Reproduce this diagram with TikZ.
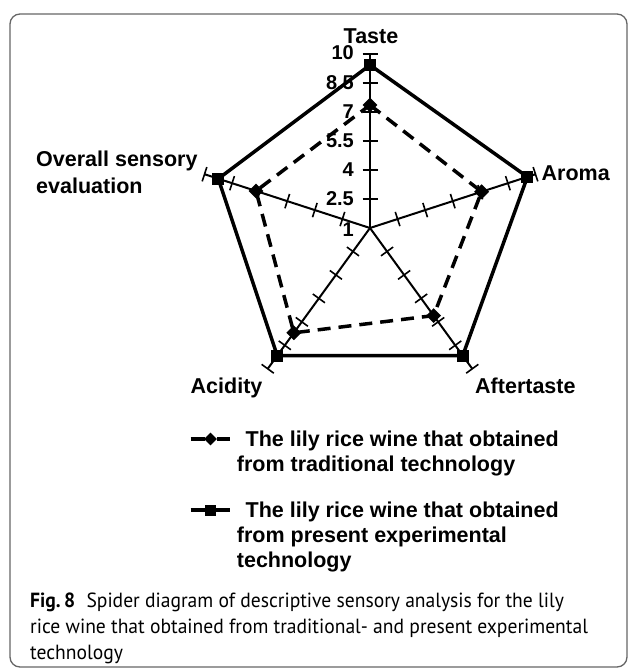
\documentclass[tikz,border=0pt]{standalone}
\usepackage{fontspec}
\setmainfont{Liberation Sans}
\newfontfamily\capfont[FakeStretch=0.955]{PT Sans}
\usetikzlibrary{shapes.geometric}
\begin{document}
\begin{tikzpicture}[x=1pt,y=1pt,
  lbl/.style={font=\fontsize{21.5}{25}\selectfont\bfseries, inner sep=0pt, anchor=base west},
  ticklbl/.style={font=\fontsize{20}{24}\selectfont\bfseries, inner sep=0pt, anchor=east},
  caplbl/.style={font=\capfont\fontsize{20.5}{25}\selectfont, inner sep=0pt, anchor=base west},
  axisline/.style={line width=2pt},
  tickline/.style={line width=1.6pt},
  expline/.style={line width=3.5pt, line join=miter},
  tradline/.style={line width=3.5pt, dash pattern=on 13pt off 8pt},
  legline/.style={line width=3.5pt},
  sqmark/.style={rectangle, fill=black, minimum size=12pt, inner sep=0pt},
  dmmark/.style={diamond, fill=black, minimum size=15pt, inner sep=0pt, aspect=1},
  frame/.style={draw=black!60, line width=1.3pt, rounded corners=10pt}
]
\useasboundingbox (0,0) rectangle (629,-670);
\draw[frame] (10,-14) rectangle (627,-667);
\coordinate (c) at (370,-228);
% axes
\foreach \a/\n in {90/ta,18/ar,-54/af,-126/ac,162/ov}{
  \draw[axisline] (c) -- ++(\a:174) coordinate (end\n);
}
% ticks
\foreach \a in {90,18,-54,-126,162}{
  \foreach \v in {2.5,4,5.5,7,8.5,10}{
    \draw[tickline, shift={(c)}, rotate=\a] ({(\v-1)*19.333},7.5) -- ({(\v-1)*19.333},-7.5);
  }
}
% tick labels
\node[ticklbl] (t10) at (354,-53) {10};
\node[ticklbl] (t85) at (354,-83) {8.5};
\node[ticklbl] (t7) at (354,-112) {7};
\node[ticklbl] (t55) at (354,-141) {5.5};
\node[ticklbl] (t4) at (354,-170) {4};
\node[ticklbl] (t25) at (354,-199) {2.5};
\node[ticklbl] (t1) at (354,-230) {1};
% data points
\path (c) ++(90:{(9.43-1)*19.333}) coordinate (eta);
\path (c) ++(18:{(9.56-1)*19.333}) coordinate (ear);
\path (c) ++(-54:{(9.16-1)*19.333}) coordinate (eaf);
\path (c) ++(-126:{(9.16-1)*19.333}) coordinate (eac);
\path (c) ++(162:{(9.25-1)*19.333}) coordinate (eov);
\path (c) ++(90:{(7.36-1)*19.333}) coordinate (tta);
\path (c) ++(18:{(7.07-1)*19.333}) coordinate (tar);
\path (c) ++(-54:{(6.6-1)*19.333}) coordinate (taf);
\path (c) ++(-126:{(7.7-1)*19.333}) coordinate (tac);
\path (c) ++(162:{(7.2-1)*19.333}) coordinate (tov);
\draw[expline] (eta) -- (ear) -- (eaf) -- (eac) -- (eov) -- cycle;
\draw[tradline] (tta) -- (tar) -- (taf) -- (tac) -- (tov) -- cycle;
\foreach \p in {eta,ear,eaf,eac,eov}{\node[sqmark] (m\p) at (\p) {};}
\foreach \p in {tta,tar,taf,tac,tov}{\node[dmmark] (m\p) at (\p) {};}
% axis labels
\node[lbl, anchor=base] (ltaste) at (371,-43) {Taste};
\node[lbl] (laroma) at (541.5,-180) {Aroma};
\node[lbl] (laft) at (475,-393) {Aftertaste};
\node[lbl] (lacid) at (190.5,-393) {Acidity};
\node[lbl] (lov1) at (36,-166) {Overall sensory};
\node[lbl] (lov2) at (36,-193) {evaluation};
% legend
\coordinate (l1a) at (190.7,-439);
\coordinate (l1b) at (205,-439);
\coordinate (l1c) at (217,-439);
\coordinate (l1d) at (230,-439);
\draw[legline] (l1a) -- (l1b);
\draw[legline] (l1c) -- (l1d);
\node[dmmark, minimum size=13pt] (leg1m) at (210.5,-439) {};
\coordinate (l2a) at (190.7,-510);
\coordinate (l2b) at (230,-510);
\draw[legline] (l2a) -- (l2b);
\node[sqmark, minimum size=11pt] (leg2m) at (210.5,-510) {};
\node[lbl] (leg1a) at (245.5,-446) {The lily rice wine that obtained};
\node[lbl] (leg1b) at (236.7,-471) {from traditional technology};
\node[lbl] (leg2a) at (245.5,-517) {The lily rice wine that obtained};
\node[lbl] (leg2b) at (236.7,-542) {from present experimental};
\node[lbl] (leg2c) at (236.7,-567) {technology};
% caption
\node[caplbl] (cap1) at (30,-607) {\textbf{Fig.\,8}\hspace{0.55em}Spider diagram of descriptive sensory analysis for the lily};
\node[caplbl] (cap2) at (30,-633) {rice wine that obtained from traditional- and present experimental};
\node[caplbl] (cap3) at (30,-659) {technology};
\end{tikzpicture}
\end{document}
